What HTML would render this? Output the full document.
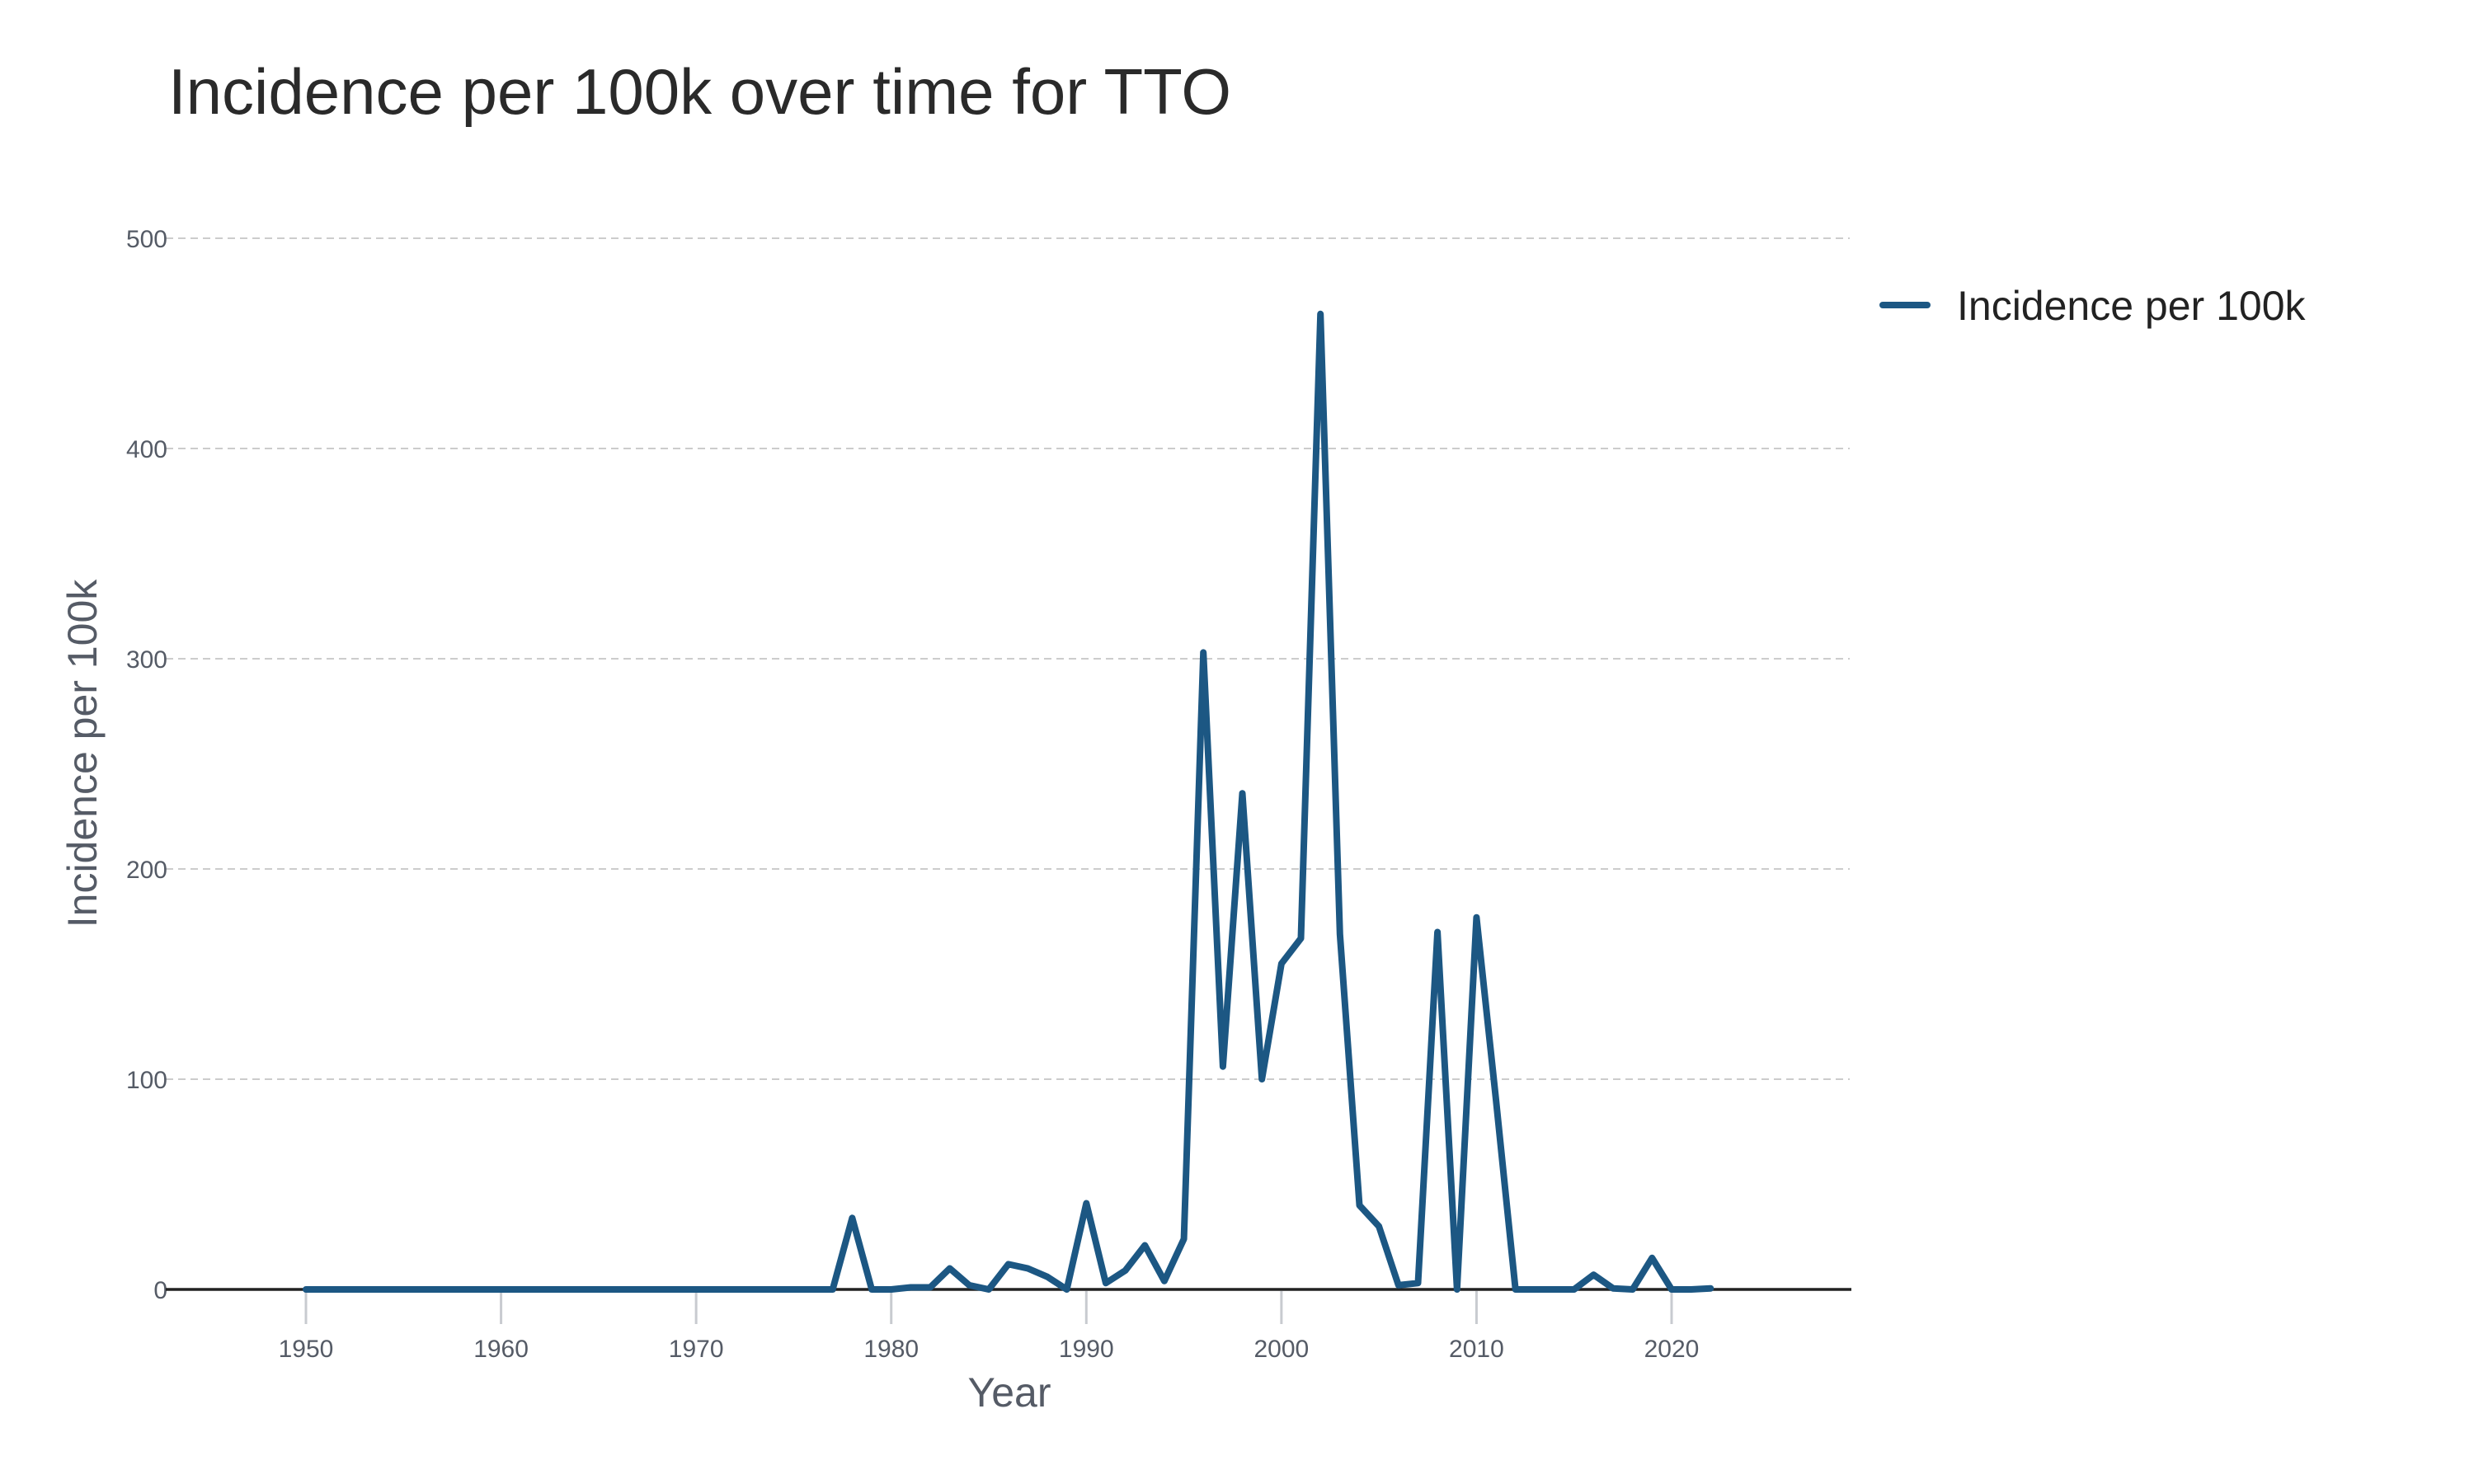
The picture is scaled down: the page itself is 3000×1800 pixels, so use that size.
<!DOCTYPE html>
<html><head><meta charset="utf-8">
<style>
html,body{margin:0;padding:0;background:#fff;}
svg{display:block;font-family:"Liberation Sans","DejaVu Sans",sans-serif;}
</style></head>
<body>
<svg id="chart" width="3000" height="1800" viewBox="0 0 3000 1800" xmlns="http://www.w3.org/2000/svg">
<text x="204" y="138" font-size="78" fill="#2a2a2a">Incidence per 100k over time for TTO</text>
<g id="grid"></g>
<g id="xticks"></g>
<g id="yticks"></g>
<line x1="201" y1="1564" x2="2245" y2="1564" stroke="#222" stroke-width="3.5"/>
<g id="series"></g>
<text x="1224" y="1706" font-size="50" fill="#555b66" text-anchor="middle">Year</text>
<text transform="translate(117,914) rotate(-90)" font-size="50" fill="#555b66" text-anchor="middle">Incidence per 100k</text>
<g>
<line x1="2283" y1="370" x2="2337" y2="370" stroke="#1c5783" stroke-width="8" stroke-linecap="round"/>
<text x="2373" y="388" font-size="50" fill="#222">Incidence per 100k</text>
</g>
</svg>
<script>
const years = [1950,1951,1952,1953,1954,1955,1956,1957,1958,1959,1960,1961,1962,1963,1964,1965,1966,1967,1968,1969,1970,1971,1972,1973,1974,1975,1976,1977,1978,1979,1980,1981,1982,1983,1984,1985,1986,1987,1988,1989,1990,1991,1992,1993,1994,1995,1996,1997,1998,1999,2000,2001,2002,2003,2004,2005,2006,2007,2008,2009,2010,2011,2012,2013,2014,2015,2016,2017,2018,2019,2020,2021,2022];
const incidence = [0,0,0,0,0,0,0,0,0,0,0,0,0,0,0,0,0,0,0,0,0,0,0,0,0,0,0,0,34,0,0,1,1,10,2,0,12,10,6,0,41,3,9,21,4,24,303,106,236,100,155,167,464,169,40,30,2,3,170,0,177,90,0,0,0,0,7,0.5,0,15,0,0,0.5];
const yTicks = [0,100,200,300,400,500];
const xTicks = [1950,1960,1970,1980,1990,2000,2010,2020];
const NS="http://www.w3.org/2000/svg";
const xs = y => 371 + (y-1950)*(2027-371)/70;
const ys = v => 1564 - v*(1564-289)/500;
function mk(tag, attrs, parent){const e=document.createElementNS(NS,tag);for(const k in attrs)e.setAttribute(k,attrs[k]);parent.appendChild(e);return e;}
const grid=document.getElementById('grid'), yt=document.getElementById('yticks'), xt=document.getElementById('xticks'), ser=document.getElementById('series');
yTicks.forEach(t=>{
  if(t>0){const l=mk('line',{x1:201,x2:2243,y1:ys(t),y2:ys(t),stroke:'#cccccc','stroke-width':2,'stroke-dasharray':'9,6'},grid);
  
  }
  const tx=mk('text',{x:203,y:ys(t)+11,'font-size':30,fill:'#555b66','text-anchor':'end'},yt);
  
  
  tx.textContent=t;
});
xTicks.forEach(t=>{
  const l=mk('line',{x1:xs(t),x2:xs(t),y1:1566,y2:1606,stroke:'#c8cbd0','stroke-width':3},xt);
  
  
  const tx=mk('text',{x:xs(t),y:1646,'font-size':30,fill:'#555b66','text-anchor':'middle'},xt);
  
  
  tx.textContent=t;
});
const d=years.map((y,i)=>(i?'L':'M')+xs(y).toFixed(1)+','+ys(incidence[i]).toFixed(1)).join(' ');
const p=mk('path',{d:d,fill:'none',stroke:'#1c5783','stroke-width':8,'stroke-linejoin':'round','stroke-linecap':'round'},ser);


</script>
</body></html>
